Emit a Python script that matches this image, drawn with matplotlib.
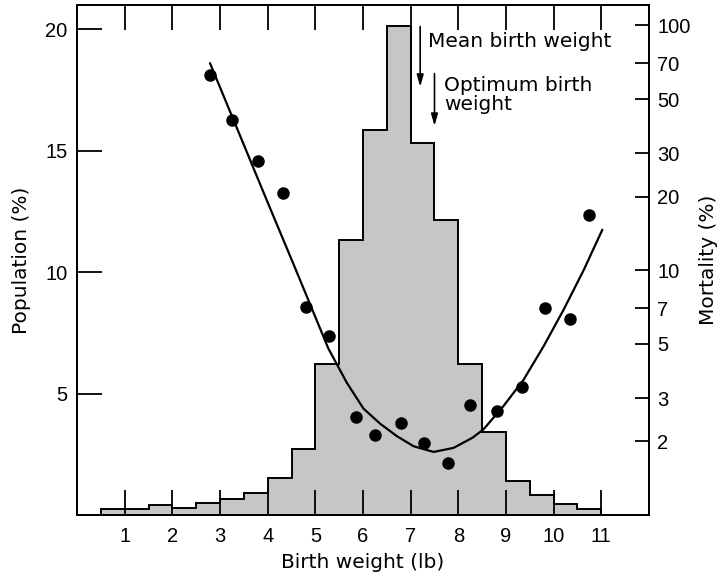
import matplotlib
matplotlib.use("Agg")
import matplotlib.pyplot as plt
import numpy as np

# histogram of births, 0.5 lb classes (population %)
bin_edges = [0.5, 1.0, 1.5, 2.0, 2.5, 3.0, 3.5, 4.0, 4.5, 5.0, 5.5, 6.0,
             6.5, 7.0, 7.5, 8.0, 8.5, 9.0, 9.5, 10.0, 10.5, 11.0]
population = [0.24, 0.24, 0.40, 0.27, 0.48, 0.66, 0.90, 1.52, 2.71, 6.21,
              11.33, 15.84, 20.15, 15.33, 12.16, 6.23, 3.42, 1.42, 0.81,
              0.45, 0.24]

# observed mortality (%)
obs_weight = [2.79, 3.25, 3.79, 4.33, 4.80, 5.29, 5.85, 6.25, 6.80, 7.27,
              7.79, 8.25, 8.81, 9.33, 9.82, 10.35, 10.74]
obs_mortality = [63, 41, 27.9, 20.7, 7.07, 5.37, 2.51, 2.13, 2.38, 1.97,
                 1.63, 2.82, 2.65, 3.34, 7.0, 6.32, 16.8]

# fitted mortality curve
fit_weight = [2.79, 3.4, 4.0, 4.54, 4.89, 5.27, 5.66, 6.01, 6.36, 6.71,
              7.06, 7.48, 7.90, 8.30, 8.53, 8.95, 9.37, 9.79, 10.21, 10.63,
              11.02]
fit_mortality = [70, 36.2, 18.9, 10.6, 7.25, 4.8, 3.47, 2.72, 2.36, 2.10,
                 1.91, 1.81, 1.88, 2.07, 2.24, 2.79, 3.57, 4.89, 6.90, 10.0,
                 14.6]

xticks = list(range(1, 12))
pop_ticks = [5, 10, 15, 20]
mort_ticks = [2, 3, 5, 7, 10, 20, 30, 50, 70, 100]

text_font = "DejaVu Sans"
tick_font = "Liberation Sans"

fig = plt.figure(figsize=(7.21, 5.78), dpi=100)
ax = fig.add_axes([0.107, 0.109, 0.793, 0.882])

ax.stairs(population, bin_edges, fill=True, color="#c6c6c6", zorder=1)
ax.stairs(population, bin_edges, baseline=0, color="black", lw=1.4, zorder=2)

ax.set_xlim(0, 12)
ax.set_ylim(0, 21)
ax.set_xticks(xticks)
ax.set_yticks(pop_ticks)
ax.tick_params(axis="x", direction="in", length=18, width=1.3, top=True,
               pad=9, labelsize=14.5)
ax.tick_params(axis="y", direction="in", length=18, width=1.3, pad=7,
               labelsize=14.5)
for lab in ax.get_xticklabels() + ax.get_yticklabels():
    lab.set_family(tick_font)
ax.set_xlabel("Birth weight (lb)", fontsize=14.5, family=text_font, labelpad=5)
ax.set_ylabel("Population (%)", fontsize=14.5, family=text_font, labelpad=10)

ax2 = ax.twinx()
ax2.set_yscale("log")
ax2.set_ylim(1, 121)
ax2.plot(fit_weight, fit_mortality, color="black", lw=1.6, zorder=3)
ax2.plot(obs_weight, obs_mortality, "o", color="black", ms=8, zorder=4)
ax2.set_yticks(mort_ticks)
ax2.set_yticklabels([str(t) for t in mort_ticks], family=tick_font)
ax2.yaxis.set_minor_locator(matplotlib.ticker.NullLocator())
ax2.tick_params(axis="y", direction="in", length=10, width=1.3, pad=6,
                labelsize=14.5)
ax2.set_ylabel("Mortality (%)", fontsize=14.5, family=text_font, labelpad=6)

for a in (ax, ax2):
    for s in a.spines.values():
        s.set_linewidth(1.4)

# arrows and notes
arrow = dict(arrowstyle="-|>,head_length=0.7,head_width=0.2", color="black",
             lw=1.2, shrinkA=0, shrinkB=0)
ax.annotate("", xy=(7.20, 17.64), xytext=(7.20, 20.12), arrowprops=arrow)
ax.text(7.37, 19.5, "Mean birth weight", fontsize=14.5, family=text_font,
        va="center")
ax.annotate("", xy=(7.50, 16.03), xytext=(7.50, 18.18), arrowprops=arrow)
ax.text(7.71, 18.1, "Optimum birth\nweight", fontsize=14.5, family=text_font,
        va="top", linespacing=1.05)

fig.savefig("out.png", dpi=100)
